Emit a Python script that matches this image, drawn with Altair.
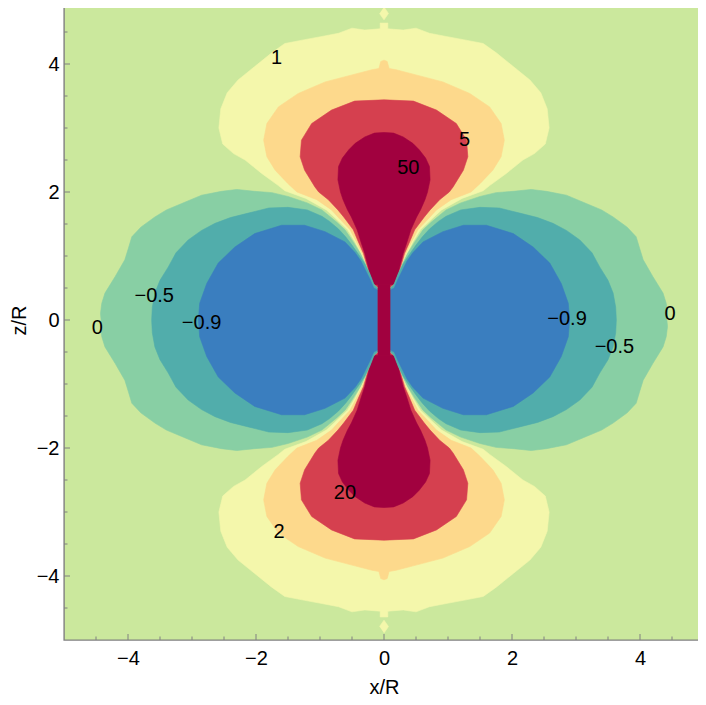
import altair as alt
import pandas as pd

# ---------------- data ----------------
MAJOR_TICKS = [-4, -2, 0, 2, 4]
MINOR_TICKS = [-4.5, -3.5, -3, -2.5, -1.5, -1, -0.5, 0.5, 1, 1.5, 2.5, 3, 3.5, 4.5]

# top lobe, right half (x >= 0): boundary of each positive level, from the top down to the neck
YELLOW_X = [0, 0.06, 0.06, 0.30, 0.50, 0.71, 0.97, 1.24, 1.55, 1.76, 2.02, 2.28, 2.45, 2.55, 2.58, 2.52, 2.35, 2.17, 1.91, 1.65, 1.55, 1.22, 0.90, 0.78, 0.57, 0.45, 0.355, 0.275, 0.22, 0.19, 0]
YELLOW_Z = [4.64, 4.64, 4.55, 4.53, 4.56, 4.48, 4.43, 4.38, 4.32, 4.17, 3.96, 3.75, 3.55, 3.30, 3.00, 2.75, 2.60, 2.50, 2.29, 2.10, 2.02, 1.90, 1.72, 1.61, 1.41, 1.22, 1.04, 0.83, 0.65, 0.50, 0.50]

ORANGE_X = [0, 0.05, 0.08, 0.19, 0.50, 0.92, 1.34, 1.65, 1.83, 1.88, 1.83, 1.70, 1.50, 1.36, 1.05, 0.82, 0.72, 0.53, 0.43, 0.34, 0.27, 0.215, 0.19, 0]
ORANGE_Z = [4.06, 4.04, 3.93, 3.91, 3.83, 3.72, 3.54, 3.33, 3.07, 2.81, 2.55, 2.34, 2.13, 2.00, 1.88, 1.72, 1.61, 1.41, 1.22, 1.04, 0.83, 0.65, 0.50, 0.50]

RED_X = [0, 0.46, 0.82, 1.13, 1.29, 1.31, 1.24, 1.08, 1.02, 0.87, 0.72, 0.63, 0.48, 0.40, 0.32, 0.26, 0.21, 0.19, 0]
RED_Z = [3.44, 3.42, 3.28, 3.07, 2.81, 2.55, 2.34, 2.08, 2.00, 1.88, 1.72, 1.61, 1.41, 1.22, 1.04, 0.83, 0.65, 0.52, 0.52]

DARK_X = [0, 0.15, 0.30, 0.45, 0.55, 0.65, 0.71, 0.72, 0.68, 0.64, 0.57, 0.51, 0.42, 0.36, 0.30, 0.245, 0.21, 0.19, 0.20, 0]
DARK_Z = [2.93, 2.92, 2.86, 2.76, 2.66, 2.53, 2.40, 2.19, 2.00, 1.88, 1.72, 1.61, 1.41, 1.22, 1.04, 0.83, 0.68, 0.60, 0.55, 0.55]

# right lobe, upper half (z >= 0): boundary of each negative level, from the neck round to the far side
LTEAL_X = [0.10, 0.10, 0.17, 0.24, 0.30, 0.37, 0.48, 0.61, 0.74, 0.86, 0.97, 1.20, 1.50, 1.75, 2.02, 2.30, 2.54, 2.85, 3.16, 3.40, 3.58, 3.80, 3.94, 4.00, 4.05, 4.20, 4.36, 4.41, 4.43, 4.42]
LTEAL_Z = [0, 0.50, 0.57, 0.75, 0.90, 1.04, 1.22, 1.41, 1.53, 1.63, 1.72, 1.83, 1.93, 1.99, 2.01, 2.04, 2.01, 1.95, 1.82, 1.72, 1.61, 1.45, 1.30, 1.10, 0.94, 0.68, 0.42, 0.26, 0.10, 0]

TEAL_X = [0.10, 0.10, 0.15, 0.22, 0.30, 0.38, 0.50, 0.60, 0.71, 0.85, 0.97, 1.20, 1.50, 1.80, 2.12, 2.40, 2.64, 2.85, 3.06, 3.25, 3.37, 3.50, 3.58, 3.62, 3.63]
TEAL_Z = [0, 0.50, 0.54, 0.72, 0.88, 1.00, 1.17, 1.30, 1.42, 1.54, 1.62, 1.72, 1.76, 1.75, 1.67, 1.60, 1.51, 1.40, 1.25, 1.05, 0.83, 0.62, 0.42, 0.20, 0]

BLUE_X = [0.10, 0.10, 0.16, 0.22, 0.29, 0.36, 0.45, 0.61, 0.92, 1.24, 1.60, 2.02, 2.33, 2.59, 2.77, 2.88, 2.90]
BLUE_Z = [0, 0.47, 0.50, 0.64, 0.78, 0.92, 1.05, 1.22, 1.38, 1.48, 1.48, 1.35, 1.14, 0.89, 0.57, 0.26, 0]

# narrow central strip and the small islands on the axis
STRIP_X = [-0.10, 0.10]
STRIP_Z = [-0.56, 0.56]
ISLAND_X = [0, 0.07, 0, -0.07]
ISLAND_Z = [4.89, 4.79, 4.69, 4.79]

# contour labels
LABEL_TEXT = ["1", "5", "50", "20", "2", "\u22120.5", "0", "\u22120.9", "\u22120.9", "\u22120.5", "0"]
LABEL_X = [-1.68, 1.26, 0.38, -0.61, -1.64, -3.59, -4.48, -2.85, 2.86, 3.60, 4.47]
LABEL_Z = [4.10, 2.82, 2.38, -2.70, -3.31, 0.375, -0.13, -0.05, 0.01, -0.42, 0.09]

# colours
BG = "#cbe89d"
C_YELLOW = "#f4f7ab"
C_ORANGE = "#fdd98c"
C_RED = "#d5404f"
C_DARK = "#a1013f"
C_LTEAL = "#88cfa4"
C_TEAL = "#51adab"
C_BLUE = "#3a7ebf"
FRAME = "#808080"
FONT = "Liberation Sans"

W, H = 640, 640

# ---------------- build polygons ----------------
def top_lobes(xs, zs):
    pts = list(zip(xs, zs))
    full = pts + [(-x, z) for x, z in reversed(pts)]
    return [full, [(x, -z) for x, z in full]]


def side_lobes(xs, zs):
    pts = list(zip(xs, zs))
    full = pts + [(x, -z) for x, z in reversed(pts)]
    return [full, [(-x, z) for x, z in full]]


def frame_of(polys):
    rows = []
    for p, poly in enumerate(polys):
        for i, (x, z) in enumerate(poly):
            rows.append({"x": x, "z": z, "poly": p, "idx": i})
    return pd.DataFrame(rows)


XS = alt.Scale(domain=[-5, 5], nice=False, zero=False)
ZS = alt.Scale(domain=[-5, 5], nice=False, zero=False)

X_AXIS = alt.Axis(values=MAJOR_TICKS, title="x/R", ticks=False, domain=False, grid=False,
                  labelFont=FONT, labelFontSize=20, labelColor="black", labelPadding=8,
                  titleFont=FONT, titleFontSize=20, titleFontWeight="normal", titleColor="black",
                  titlePadding=9)
Y_AXIS = alt.Axis(values=MAJOR_TICKS, title="z/R", ticks=False, domain=False, grid=False,
                  labelFont=FONT, labelFontSize=20, labelColor="black", labelPadding=5,
                  titleFont=FONT, titleFontSize=20, titleFontWeight="normal", titleColor="black",
                  titlePadding=7)


def X(field):
    return alt.X(field, scale=XS, axis=X_AXIS)


def Y(field):
    return alt.Y(field, scale=ZS, axis=Y_AXIS)


def region(polys, color):
    df = frame_of(polys)
    return alt.Chart(df).mark_line(fill=color, stroke=color, strokeWidth=0.6, clip=True).encode(
        x=X("x:Q"), y=Y("z:Q"), detail="poly:N", order="idx:Q")


island = list(zip(ISLAND_X, ISLAND_Z))
layers = [
    region(top_lobes(YELLOW_X, YELLOW_Z) + [island, [(x, -z) for x, z in island]], C_YELLOW),
    region(top_lobes(ORANGE_X, ORANGE_Z), C_ORANGE),
    region(top_lobes(RED_X, RED_Z), C_RED),
    region(top_lobes(DARK_X, DARK_Z), C_DARK),
    region(side_lobes(LTEAL_X, LTEAL_Z), C_LTEAL),
    region(side_lobes(TEAL_X, TEAL_Z), C_TEAL),
    region(side_lobes(BLUE_X, BLUE_Z), C_BLUE),
]

strip = alt.Chart(pd.DataFrame({"x": [STRIP_X[0]], "x2": [STRIP_X[1]],
                                "z": [STRIP_Z[0]], "z2": [STRIP_Z[1]]})).mark_rect(color=C_DARK).encode(
    x=X("x:Q"), x2="x2:Q", y=Y("z:Q"), y2="z2:Q")
layers.append(strip)

# inward frame ticks
for vals, ln in [(MAJOR_TICKS, 6), (MINOR_TICKS, 3.5)]:
    sub = pd.DataFrame({"v": vals})
    base = alt.Chart(sub).mark_rule(color=FRAME, strokeWidth=1)
    layers.append(base.encode(x=X("v:Q"), y=alt.value(H), y2=alt.value(H - ln)))
    layers.append(base.encode(x=X("v:Q"), y=alt.value(0), y2=alt.value(ln)))
    layers.append(base.encode(y=Y("v:Q"), x=alt.value(0), x2=alt.value(ln)))
    layers.append(base.encode(y=Y("v:Q"), x=alt.value(W), x2=alt.value(W - ln)))

labels = alt.Chart(pd.DataFrame({"x": LABEL_X, "z": LABEL_Z, "t": LABEL_TEXT})).mark_text(
    font=FONT, fontSize=20, color="black", align="center", baseline="middle").encode(
    x=X("x:Q"), y=Y("z:Q"), text="t:N")
layers.append(labels)

chart = alt.layer(*layers).properties(
    width=W, height=H,
    autosize=alt.AutoSizeParams(type="none"),
    padding={"left": 56, "top": -8, "right": -6, "bottom": 57},
).configure_view(fill=BG, stroke=FRAME, strokeWidth=1.4)

chart.save("out.html", embed_options={"renderer": "svg", "actions": False})
